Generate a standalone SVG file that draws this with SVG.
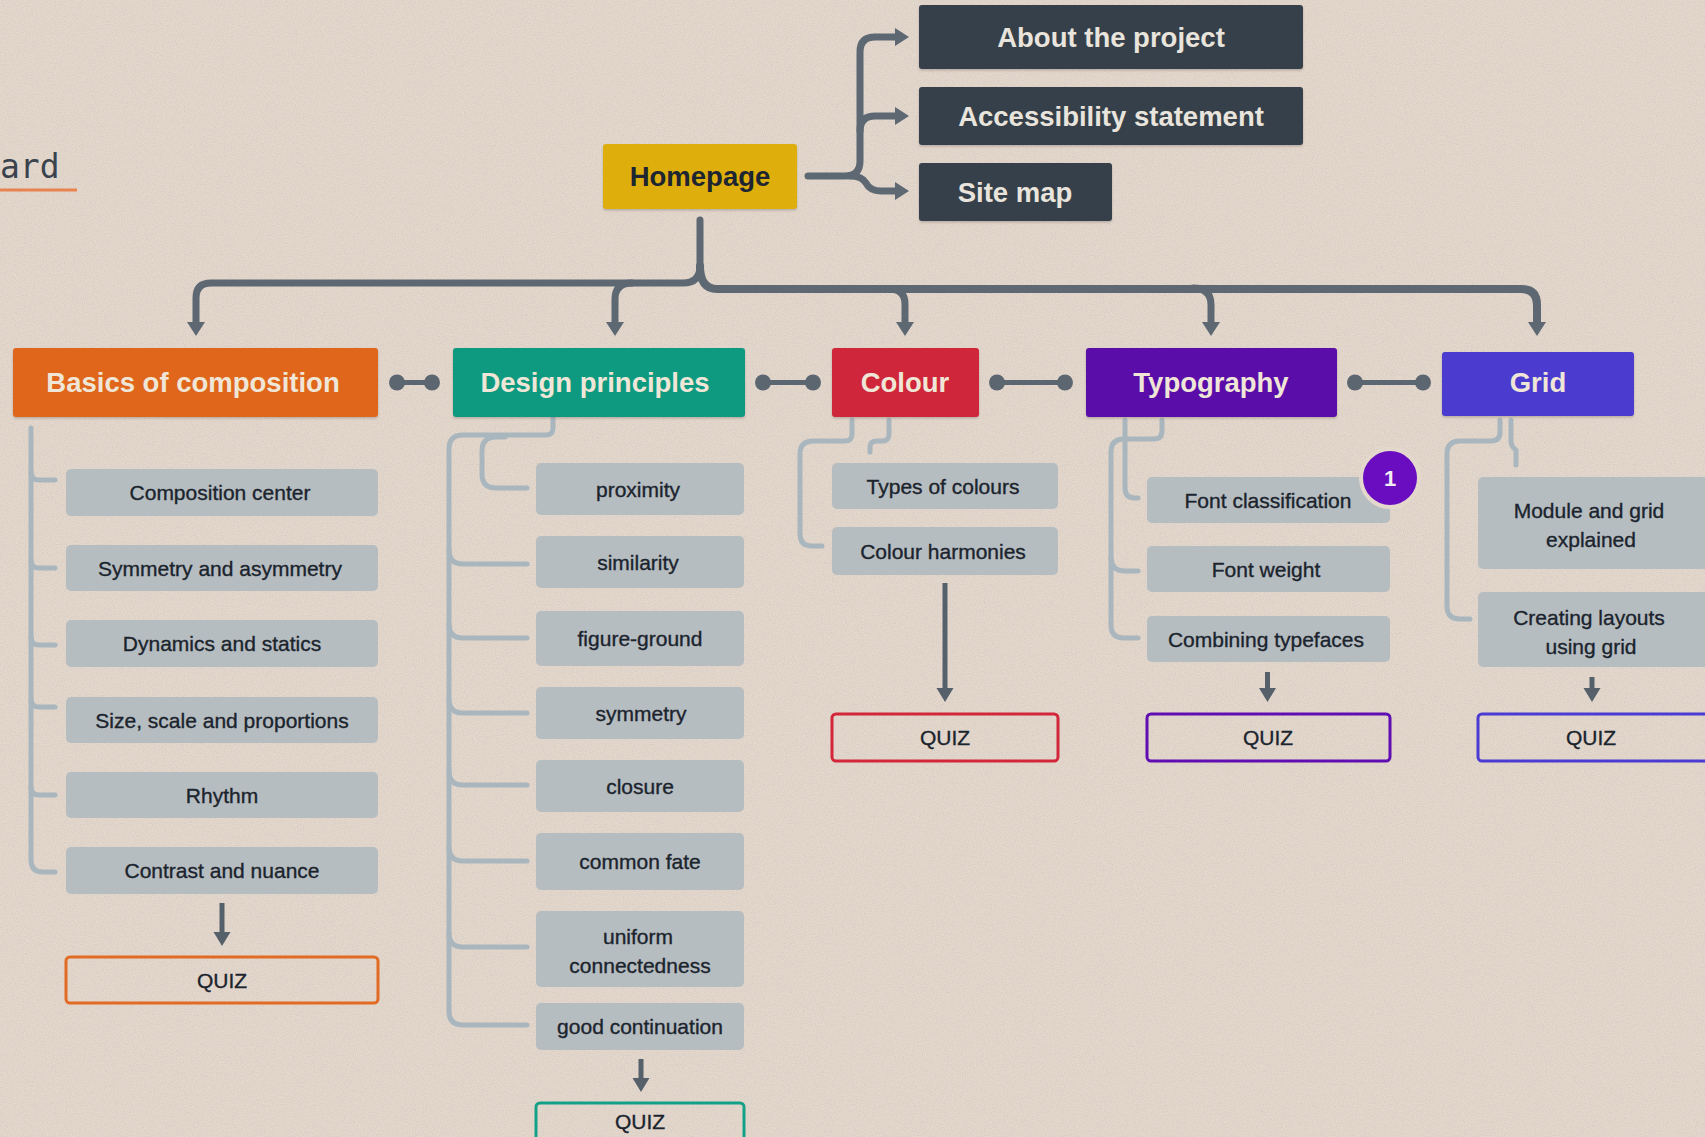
<svg xmlns="http://www.w3.org/2000/svg" width="1705" height="1137" viewBox="0 0 1705 1137">
<defs>
<filter id="noise" x="0" y="0" width="100%" height="100%">
<feTurbulence type="fractalNoise" baseFrequency="0.9" numOctaves="2" seed="3" result="t"/>
<feColorMatrix in="t" type="matrix" values="0 0 0 0 0.45  0 0 0 0 0.4  0 0 0 0 0.37  0 0 0 -1.6 1.0"/>
<feComposite operator="in" in2="SourceGraphic"/>
</filter>
<filter id="sh" x="-5%" y="-10%" width="110%" height="130%">
<feDropShadow dx="0" dy="1.5" stdDeviation="1" flood-color="#6b6058" flood-opacity="0.35"/>
</filter>
<marker id="ah" markerUnits="userSpaceOnUse" markerWidth="15" markerHeight="19" refX="1" refY="9.5" orient="auto">
<path d="M0,0.5 L14,9.5 L0,18.5 Z" fill="#5D6873"/>
</marker>
<marker id="ah2" markerUnits="userSpaceOnUse" markerWidth="15" markerHeight="19" refX="1" refY="9.5" orient="auto">
<path d="M0,1 L14,9.5 L0,18 Z" fill="#55606A"/>
</marker>
</defs>
<style>
.t{font-family:"Liberation Sans",Arial,sans-serif;text-anchor:middle}
.cat text{font-weight:bold;font-size:27.5px;fill:#EFE6D7}
.top text{font-weight:bold;font-size:27.5px;fill:#E9E4DC}
.top rect{fill:#343F4B}
.sub rect{fill:#B6BDC1}
.sub text,.quiz text{font-size:21px;fill:#1B242D;stroke:#1B242D;stroke-width:0.35}
.quiz rect{fill:none;stroke-width:3}
.main{fill:none;stroke:#5D6873;stroke-width:7;stroke-linecap:round;stroke-linejoin:round}
.down{fill:none;stroke:#55606A;stroke-width:5}
.tree{fill:none;stroke:#A9B6BE;stroke-width:5;stroke-linecap:round;stroke-linejoin:round}
.bell{stroke:#5B6670;stroke-width:5}
.bell circle{fill:#5B6670;stroke:none}
</style>
<rect width="1705" height="1137" fill="#E4D8CD"/>
<rect width="1705" height="1137" fill="#E4D8CD" filter="url(#noise)" opacity="0.35"/>

<g id="title-fragment">
<text x="0" y="178" font-family="DejaVu Sans Mono, monospace" font-size="33" fill="#3A434D">ard</text>
<line x1="0" y1="190" x2="77" y2="190" stroke="#E8834F" stroke-width="3"/>
</g>

<g id="connectors">
<path class="main" d="M808,176 H845 Q860,176 860,161 V52 Q860,37 875,37 H896" marker-end="url(#ah)"/>
<path class="main" d="M860,131 Q860,116 875,116 H896" marker-end="url(#ah)"/>
<path class="main" d="M850,176 Q862,176 866,183 Q870,191 881,191 H896" marker-end="url(#ah)"/>
<path class="main" d="M700,220 V266 Q700,283 683,283 H211 Q196,283 196,298 V323" marker-end="url(#ah)"/>
<path class="main" d="M632,283 Q615,283 615,299 V323" marker-end="url(#ah)"/>
<path class="main" style="stroke-width:8" d="M700,266 Q700,289 717,289 H1521 Q1537,289 1537,305 V323" marker-end="url(#ah)"/>
<path class="main" d="M889,289 Q905,289 905,304 V323" marker-end="url(#ah)"/>
<path class="main" d="M1193,288 Q1211,288 1211,305 V323" marker-end="url(#ah)"/>
<g class="bell">
<line x1="397" y1="382.5" x2="432" y2="382.5"/><circle cx="397" cy="382.5" r="8"/><circle cx="432" cy="382.5" r="8"/>
<line x1="763" y1="382.5" x2="813" y2="382.5"/><circle cx="763" cy="382.5" r="8"/><circle cx="813" cy="382.5" r="8"/>
<line x1="997" y1="382.5" x2="1065" y2="382.5"/><circle cx="997" cy="382.5" r="8"/><circle cx="1065" cy="382.5" r="8"/>
<line x1="1355" y1="382.5" x2="1423" y2="382.5"/><circle cx="1355" cy="382.5" r="8"/><circle cx="1423" cy="382.5" r="8"/>
</g>
<path class="tree" d="M31,428 V860 Q31,872 43,872 H55"/>
<path class="tree" d="M31,472 Q31,480 39,480 H55 M31,560 Q31,568 39,568 H55 M31,637 Q31,645 39,645 H55 M31,699 Q31,707 39,707 H55 M31,787 Q31,795 39,795 H55"/>
<path class="tree" d="M553,418 V428 Q553,435 546,435 H463 Q449,435 449,449 V1011 Q449,1025 463,1025 H527"/>
<path class="tree" d="M505,437 H496 Q482,437 482,451 V474 Q482,488 496,488 H527"/>
<path class="tree" d="M449,550 Q449,564 463,564 H527 M449,624 Q449,638 463,638 H527 M449,699 Q449,713 463,713 H527 M449,771 Q449,785 463,785 H527 M449,847 Q449,861 463,861 H527 M449,933 Q449,947 463,947 H527"/>
<path class="tree" d="M852,420 V434 Q852,441 845,441 H813 Q800,441 800,454 V534 Q800,546 812,546 H822"/>
<path class="tree" d="M889,420 V434 Q889,441 882,441 H877 Q870,441 870,447 V452"/>
<path class="tree" d="M1162,420 V431 Q1162,439 1154,439 H1124 Q1111,439 1111,452 V625 Q1111,638 1124,638 H1138"/>
<path class="tree" d="M1111,557 Q1111,571 1125,571 H1138"/>
<path class="tree" d="M1125,420 V488 Q1125,498 1135,498 H1138"/>
<path class="tree" d="M1500,420 V432 Q1500,441 1491,441 H1460 Q1447,441 1447,454 V606 Q1447,619 1460,619 H1470"/>
<path class="tree" d="M1511,420 V441 Q1511,447 1516,450 V465"/>
<path class="down" d="M222,903 V933" marker-end="url(#ah2)"/>
<path class="down" d="M641,1059 V1079" marker-end="url(#ah2)"/>
<path class="down" d="M945,583 V689" marker-end="url(#ah2)"/>
<path class="down" d="M1267.5,672 V689" marker-end="url(#ah2)"/>
<path class="down" d="M1592,677 V689" marker-end="url(#ah2)"/>
</g>

<g id="homepage" class="cat t">
<rect x="603" y="144" width="194" height="65" rx="3" fill="#DEAE07" filter="url(#sh)"/>
<text x="700" y="186" style="fill:#1C2530">Homepage</text>
</g>
<g id="about" class="top t">
<rect x="919" y="5" width="384" height="64" rx="3" filter="url(#sh)"/>
<text x="1111" y="47">About the project</text>
</g>
<g id="accessibility" class="top t">
<rect x="919" y="87" width="384" height="58" rx="3" filter="url(#sh)"/>
<text x="1111" y="126">Accessibility statement</text>
</g>
<g id="sitemap" class="top t">
<rect x="919" y="163" width="193" height="58" rx="3" filter="url(#sh)"/>
<text x="1015" y="202">Site map</text>
</g>

<g id="basics" class="cat t">
<rect x="13" y="348" width="365" height="69" rx="3" fill="#E0661D" filter="url(#sh)"/>
<text x="193" y="392">Basics of composition</text>
</g>
<g id="design" class="cat t">
<rect x="453" y="348" width="292" height="69" rx="3" fill="#0F9A80" filter="url(#sh)"/>
<text x="595" y="392">Design principles</text>
</g>
<g id="colour" class="cat t">
<rect x="832" y="348" width="147" height="69" rx="3" fill="#D0263A" filter="url(#sh)"/>
<text x="905" y="392">Colour</text>
</g>
<g id="typography" class="cat t">
<rect x="1086" y="348" width="251" height="69" rx="3" fill="#5A08A9" filter="url(#sh)"/>
<text x="1211" y="392">Typography</text>
</g>
<g id="grid" class="cat t">
<rect x="1442" y="352" width="192" height="64" rx="3" fill="#4C3BCF" filter="url(#sh)"/>
<text x="1538" y="392">Grid</text>
</g>

<g id="composition-center" class="sub t"><rect x="66" y="469" width="312" height="47" rx="5"/><text x="220" y="500">Composition center</text></g>
<g id="symmetry-asymmetry" class="sub t"><rect x="66" y="545" width="312" height="46" rx="5"/><text x="220" y="575.5">Symmetry and asymmetry</text></g>
<g id="dynamics-statics" class="sub t"><rect x="66" y="620" width="312" height="47" rx="5"/><text x="222" y="651">Dynamics and statics</text></g>
<g id="size-scale" class="sub t"><rect x="66" y="697" width="312" height="46" rx="5"/><text x="222" y="727.5">Size, scale and proportions</text></g>
<g id="rhythm" class="sub t"><rect x="66" y="772" width="312" height="46" rx="5"/><text x="222" y="802.5">Rhythm</text></g>
<g id="contrast-nuance" class="sub t"><rect x="66" y="847" width="312" height="47" rx="5"/><text x="222" y="878">Contrast and nuance</text></g>
<g id="quiz-basics" class="quiz t"><rect x="66" y="957" width="312" height="46" rx="4" stroke="#E26A22"/><text x="222" y="987.5">QUIZ</text></g>

<g id="proximity" class="sub t"><rect x="536" y="463" width="208" height="52" rx="5"/><text x="638" y="496.5">proximity</text></g>
<g id="similarity" class="sub t"><rect x="536" y="536" width="208" height="52" rx="5"/><text x="638" y="569.5">similarity</text></g>
<g id="figure-ground" class="sub t"><rect x="536" y="611" width="208" height="55" rx="5"/><text x="640" y="646">figure-ground</text></g>
<g id="symmetry" class="sub t"><rect x="536" y="687" width="208" height="52" rx="5"/><text x="641" y="720.5">symmetry</text></g>
<g id="closure" class="sub t"><rect x="536" y="760" width="208" height="52" rx="5"/><text x="640" y="793.5">closure</text></g>
<g id="common-fate" class="sub t"><rect x="536" y="833" width="208" height="57" rx="5"/><text x="640" y="869">common fate</text></g>
<g id="uniform-connectedness" class="sub t"><rect x="536" y="911" width="208" height="76" rx="5"/><text x="638" y="944">uniform</text><text x="640" y="972.5">connectedness</text></g>
<g id="good-continuation" class="sub t"><rect x="536" y="1003" width="208" height="47" rx="5"/><text x="640" y="1034">good continuation</text></g>
<g id="quiz-design" class="quiz t"><rect x="536" y="1103" width="208" height="46" rx="4" stroke="#14A087"/><text x="640" y="1129">QUIZ</text></g>

<g id="types-of-colours" class="sub t"><rect x="832" y="463" width="226" height="46" rx="5"/><text x="943" y="493.5">Types of colours</text></g>
<g id="colour-harmonies" class="sub t"><rect x="832" y="527" width="226" height="48" rx="5"/><text x="943" y="558.5">Colour harmonies</text></g>
<g id="quiz-colour" class="quiz t"><rect x="832" y="714" width="226" height="47" rx="4" stroke="#D3263A"/><text x="945" y="745">QUIZ</text></g>

<g id="font-classification" class="sub t"><rect x="1147" y="477" width="243" height="46" rx="5"/><text x="1268" y="507.5">Font classification</text></g>
<g id="font-weight" class="sub t"><rect x="1147" y="546" width="243" height="46" rx="5"/><text x="1266" y="576.5">Font weight</text></g>
<g id="combining-typefaces" class="sub t"><rect x="1147" y="616" width="243" height="46" rx="5"/><text x="1266" y="646.5">Combining typefaces</text></g>
<g id="quiz-typography" class="quiz t"><rect x="1147" y="714" width="243" height="47" rx="4" stroke="#600DB2"/><text x="1268" y="745">QUIZ</text></g>
<g id="badge" class="t">
<circle cx="1390" cy="478" r="29" fill="#6A0DC1" stroke="#E4D8CD" stroke-width="4"/>
<text x="1390" y="486" font-weight="bold" font-size="22" fill="#F2ECF6">1</text>
</g>

<g id="module-grid" class="sub t"><rect x="1478" y="477" width="232" height="92" rx="5"/><text x="1589" y="517.5">Module and grid</text><text x="1591" y="546.5">explained</text></g>
<g id="creating-layouts" class="sub t"><rect x="1478" y="592" width="232" height="75" rx="5"/><text x="1589" y="625">Creating layouts</text><text x="1591" y="654">using grid</text></g>
<g id="quiz-grid" class="quiz t"><rect x="1478" y="714" width="232" height="47" rx="4" stroke="#4B3BD2"/><text x="1591" y="745">QUIZ</text></g>
</svg>
